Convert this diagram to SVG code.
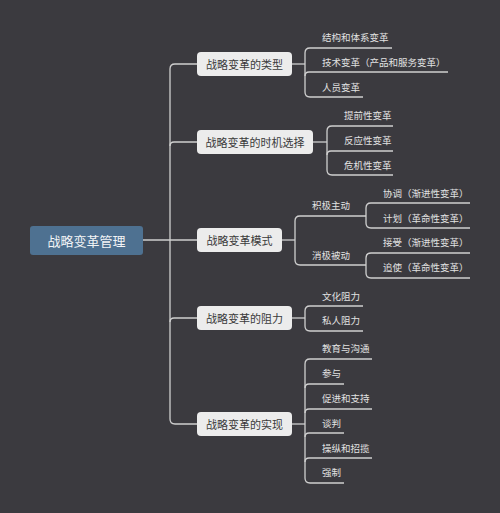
<svg xmlns="http://www.w3.org/2000/svg" width="500" height="513" viewBox="0 0 500 513">
<style>
.bg{fill:#3b3a3f}
.root rect{fill:#4e7191}
.root text{fill:#f2f4f6;font-size:13px}
.l1 rect{fill:#ececec}
.l1 text{fill:#3a3a3a;font-size:11px}
.leaf text{fill:#e2e2e2;font-size:9.5px}
text{font-family:"Noto Sans CJK SC","Noto Sans",sans-serif;dominant-baseline:central}
.c path{fill:none;stroke:#cfcfcf;stroke-width:1.3}
</style>
<rect class="bg" x="0" y="0" width="500" height="513"/>
<g class="c" id="connectors">
<path d="M143,240 H197"/>
<path d="M197,64 H175 Q170,64 170,69 V419 Q170,424 175,424 H197"/>
<path d="M170,146 Q170,142 174,142 H197"/>
<path d="M170,322 Q170,318 174,318 H197"/>
<!-- types -->
<path d="M292,64 H305"/>
<path d="M392,48 H310 Q305,48 305,53 V92 Q305,97 310,97 H363"/>
<path d="M305,76 Q305,72 309,72 H448"/>
<!-- timing -->
<path d="M313,142 H327"/>
<path d="M393,126 H332 Q327,126 327,131 V170 Q327,175 332,175 H393"/>
<path d="M327,155 Q327,151 331,151 H393"/>
<!-- mode -->
<path d="M282,240 H295"/>
<path d="M366,216 H300 Q295,216 295,221 V260 Q295,265 300,265 H366"/>
<path d="M470,203 H371 Q366,203 366,208 V223 Q366,228 371,228 H470"/>
<path d="M470,253 H371 Q366,253 366,258 V273 Q366,278 371,278 H470"/>
<!-- resistance -->
<path d="M292,318 H305"/>
<path d="M363,306 H310 Q305,306 305,311 V326 Q305,331 310,331 H363"/>
<!-- implementation -->
<path d="M292,424 H305"/>
<path d="M372,359 H310 Q305,359 305,364 V478 Q305,483 310,483 H344"/>
<path d="M305,388 Q305,384 309,384 H344"/>
<path d="M305,413 Q305,409 309,409 H372"/>
<path d="M305,437 Q305,433 309,433 H344"/>
<path d="M305,462 Q305,458 309,458 H372"/>
</g>
<g id="root" class="root"><rect x="30" y="226" width="113" height="29" rx="3"/><text x="86.5" y="240.5" text-anchor="middle">战略变革管理</text></g>
<g id="n-type" class="l1"><rect x="197" y="52" width="95" height="24" rx="4"/><text x="244.5" y="64" text-anchor="middle">战略变革的类型</text></g>
<g id="n-timing" class="l1"><rect x="197" y="130" width="116" height="24" rx="4"/><text x="255" y="142" text-anchor="middle">战略变革的时机选择</text></g>
<g id="n-mode" class="l1"><rect x="197" y="228" width="85" height="24" rx="4"/><text x="239.5" y="240" text-anchor="middle">战略变革模式</text></g>
<g id="n-resist" class="l1"><rect x="197" y="306" width="95" height="24" rx="4"/><text x="244.5" y="318" text-anchor="middle">战略变革的阻力</text></g>
<g id="n-impl" class="l1"><rect x="197" y="412" width="95" height="24" rx="4"/><text x="244.5" y="424" text-anchor="middle">战略变革的实现</text></g>
<g id="t1" class="leaf"><text x="322" y="37">结构和体系变革</text></g>
<g id="t2" class="leaf"><text x="322" y="62">技术变革（产品和服务变革）</text></g>
<g id="t3" class="leaf"><text x="322" y="87">人员变革</text></g>
<g id="m1" class="leaf"><text x="344" y="115">提前性变革</text></g>
<g id="m2" class="leaf"><text x="344" y="140">反应性变革</text></g>
<g id="m3" class="leaf"><text x="344" y="165">危机性变革</text></g>
<g id="p1" class="leaf"><text x="312" y="205">积极主动</text></g>
<g id="p1a" class="leaf"><text x="383" y="193">协调（渐进性变革）</text></g>
<g id="p1b" class="leaf"><text x="383" y="218">计划（革命性变革）</text></g>
<g id="p2" class="leaf"><text x="312" y="255">消极被动</text></g>
<g id="p2a" class="leaf"><text x="383" y="242">接受（渐进性变革）</text></g>
<g id="p2b" class="leaf"><text x="383" y="267">追使（革命性变革）</text></g>
<g id="r1" class="leaf"><text x="322" y="296">文化阻力</text></g>
<g id="r2" class="leaf"><text x="322" y="320">私人阻力</text></g>
<g id="i1" class="leaf"><text x="322" y="348">教育与沟通</text></g>
<g id="i2" class="leaf"><text x="322" y="373">参与</text></g>
<g id="i3" class="leaf"><text x="322" y="398">促进和支持</text></g>
<g id="i4" class="leaf"><text x="322" y="423">谈判</text></g>
<g id="i5" class="leaf"><text x="322" y="448">操纵和招揽</text></g>
<g id="i6" class="leaf"><text x="322" y="472">强制</text></g>
</svg>
